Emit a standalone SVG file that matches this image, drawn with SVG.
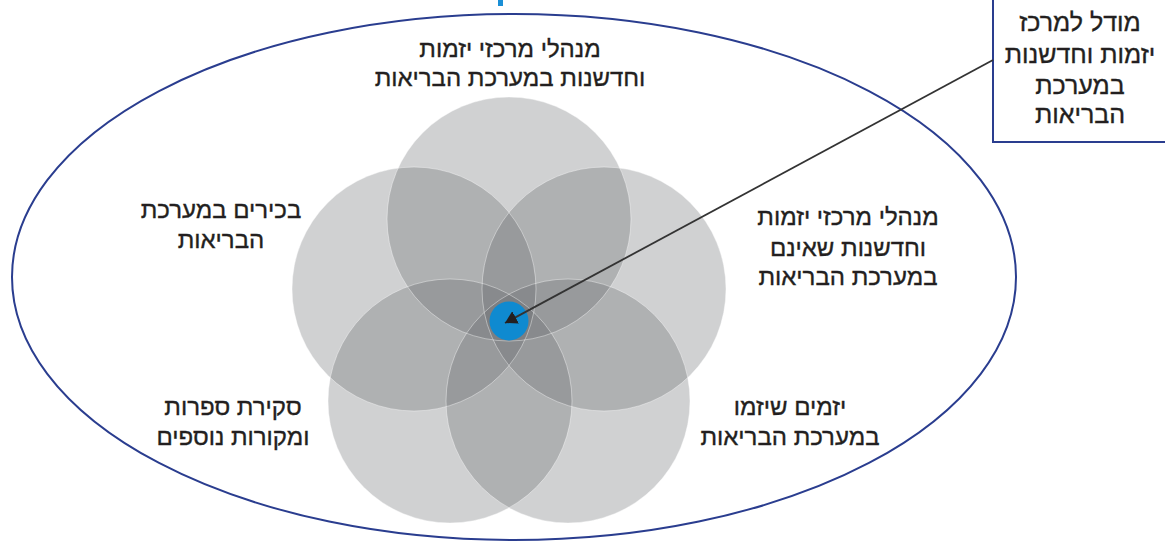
<svg xmlns="http://www.w3.org/2000/svg" width="1165" height="542" viewBox="0 0 1165 542">
<style>
.lbl{font-family:"Liberation Sans","DejaVu Sans",sans-serif;font-size:24px;fill:#231f20;stroke:#231f20;stroke-width:0.35;text-anchor:middle}
.box{font-family:"Liberation Sans","DejaVu Sans",sans-serif;font-size:25px;fill:#231f20;stroke:#231f20;stroke-width:0.35;text-anchor:middle}
.c{fill:#64666b;fill-opacity:0.3}
.co{fill:none;stroke:#ffffff;stroke-opacity:0.4;stroke-width:1}
</style>
<defs>
<marker id="ah" viewBox="0 0 12 14" refX="12" refY="7" markerWidth="12" markerHeight="14" markerUnits="userSpaceOnUse" orient="auto">
<path d="M0,0 L12,7 L0,14 z" fill="#231f20"/>
</marker>
</defs>
<rect width="1165" height="542" fill="#ffffff"/>
<rect x="498" y="0" width="5" height="6" fill="#1a8fd6"/>
<g id="outer">
<ellipse cx="514" cy="277" rx="502" ry="263" fill="none" stroke="#2a3d8f" stroke-width="2"/>
</g>
<g id="circles">
<circle id="c-top" class="c" cx="509" cy="219" r="122"/>
<circle id="c-left" class="c" cx="414" cy="289" r="122"/>
<circle id="c-right" class="c" cx="604" cy="289" r="122"/>
<circle id="c-bl" class="c" cx="450" cy="401" r="122"/>
<circle id="c-br" class="c" cx="568" cy="401" r="122"/>
<circle class="co" cx="509" cy="219" r="122"/>
<circle class="co" cx="414" cy="289" r="122"/>
<circle class="co" cx="604" cy="289" r="122"/>
<circle class="co" cx="450" cy="401" r="122"/>
<circle class="co" cx="568" cy="401" r="122"/>
</g>
<g id="center">
<circle cx="509" cy="321" r="19.5" fill="#0f8ad0"/>
</g>
<g id="label-top">
<text class="lbl" x="510" y="57">מנהלי מרכזי יזמות</text>
<text class="lbl" x="510" y="86">וחדשנות במערכת הבריאות</text>
</g>
<g id="label-left">
<text class="lbl" x="221" y="218">בכירים במערכת</text>
<text class="lbl" x="221" y="248">הבריאות</text>
</g>
<g id="label-right">
<text class="lbl" x="848" y="225">מנהלי מרכזי יזמות</text>
<text class="lbl" x="848" y="256">וחדשנות שאינם</text>
<text class="lbl" x="848" y="285">במערכת הבריאות</text>
</g>
<g id="label-bl">
<text class="lbl" x="233" y="415">סקירת ספרות</text>
<text class="lbl" x="233" y="445">ומקורות נוספים</text>
</g>
<g id="label-br">
<text class="lbl" x="790" y="415">יזמים שיזמו</text>
<text class="lbl" x="790" y="445">במערכת הבריאות</text>
</g>
<g id="model-box">
<rect x="993" y="-5" width="200" height="147" fill="#ffffff" stroke="#2a3d8f" stroke-width="2"/>
<text class="box" x="1080" y="31">מודל למרכז</text>
<text class="box" x="1080" y="63">יזמות וחדשנות</text>
<text class="box" x="1080" y="94">במערכת</text>
<text class="box" x="1080" y="123">הבריאות</text>
</g>
<g id="connectors">
<line x1="993" y1="60" x2="505" y2="323" stroke="#333333" stroke-width="1.8" marker-end="url(#ah)"/>
</g>
</svg>
